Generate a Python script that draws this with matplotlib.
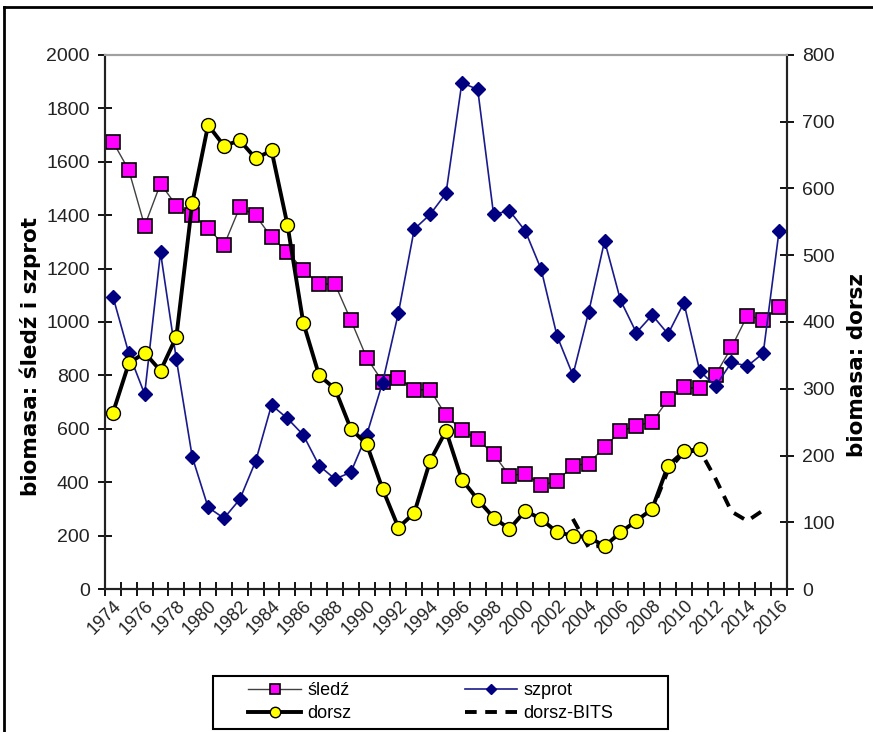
import numpy as np
import matplotlib
matplotlib.use('Agg')
import matplotlib.pyplot as plt
from matplotlib.lines import Line2D
from matplotlib.patches import Rectangle

plt.rcParams['font.family'] = ['Liberation Sans', 'DejaVu Sans']

# years 1974-2016
years = list(range(1974, 2017))

# biomass, left axis
sledz = [1675, 1569, 1360, 1518, 1436, 1402, 1352, 1287, 1430, 1399, 1317, 1263, 1195, 1142, 1142,
         1007, 866, 777, 791, 746, 746, 650, 595, 560, 505, 425, 432, 389, 403, 462,
         470, 533, 590, 612, 625, 710, 755, 751, 803, 905, 1024, 1009, 1056]
szprot = [1095, 883, 730, 1261, 860, 495, 306, 265, 336, 479, 689, 639, 577, 462, 412,
          437, 577, 773, 1034, 1348, 1403, 1482, 1896, 1871, 1403, 1417, 1341, 1197, 948, 801,
          1038, 1304, 1082, 960, 1026, 955, 1072, 816, 760, 849, 835, 883, 1341]

# cod biomass, right axis
dorsz_years = list(range(1974, 2012))
dorsz = [264, 338, 354, 327, 378, 578, 695, 664, 672, 645, 657, 546, 399, 320, 300,
         240, 217, 150, 92, 114, 192, 237, 164, 134, 107, 90, 117, 105, 85, 80,
         78, 64, 85, 102, 120, 185, 206, 210]
bits_years = list(range(2003, 2016))
bits = [105, 62, 66, 84, 101, 118, 178, 205, 208, 165, 116, 102, 118]

label_years = list(range(1974, 2017, 2))

fig = plt.figure(figsize=(8.73, 7.32), dpi=100)
ax = fig.add_axes([105 / 873, 1 - 589 / 732, 682 / 873, 534 / 732])
ax2 = ax.twinx()

ax.plot(years, sledz, color='#404040', lw=1.0, marker='s', ms=9.5,
        mfc='#ff00ff', mec='black', mew=1.2, label='śledź', zorder=3)
ax.plot(years, szprot, color='#1a1a8c', lw=1.2, marker='D', ms=7,
        mfc='#000080', mec='#000080', label='szprot', zorder=4)
ax2.plot(bits_years, bits, color='black', lw=2.8, ls=(0, (3, 2.2)), label='dorsz-BITS', zorder=2)
ax2.plot(dorsz_years, dorsz, color='black', lw=2.8, marker='o', ms=10,
         mfc='#ffff00', mec='black', mew=1.0, label='dorsz', zorder=3)

ax.set_xlim(1973.5, 2016.5)
ax.set_ylim(0, 2000)
ax2.set_ylim(0, 800)
ax.set_yticks(np.arange(0, 2001, 200))
ax2.set_yticks(np.arange(0, 801, 100))
ax.set_xticks(np.arange(1973.5, 2017, 1))
ax.set_xticklabels([])
ax.set_xticks(label_years, minor=True)
ax.set_xticklabels([str(y) for y in label_years], minor=True, rotation=45,
                   ha='right', rotation_mode='anchor', fontsize=13, color='#222222')
ax.tick_params(axis='x', which='minor', length=0, pad=6)
ax.tick_params(axis='x', which='major', direction='inout', length=10, width=1.3)
ax.tick_params(axis='y', direction='inout', length=10, width=1.3, labelsize=14,
               labelcolor='#222222', pad=6)
ax2.tick_params(axis='y', direction='inout', length=10, width=1.3, labelsize=14,
                labelcolor='#222222', pad=6)

for a in (ax, ax2):
    a.spines['top'].set_color('#a0a0a0')
    a.spines['top'].set_linewidth(1.5)
    for s in ('left', 'right', 'bottom'):
        a.spines[s].set_linewidth(1.5)
        a.spines[s].set_color('#222222')

fig.text(30 / 873, 1 - 357 / 732, 'biomasa: śledź i szprot', rotation=90,
         ha='center', va='center', fontsize=15.5, fontweight='bold', family='DejaVu Sans')
fig.text(857 / 873, 1 - 365 / 732, 'biomasa: dorsz', rotation=90,
         ha='center', va='center', fontsize=15.5, fontweight='bold', family='DejaVu Sans')

h1, l1 = ax.get_legend_handles_labels()
h2, l2 = ax2.get_legend_handles_labels()
hd = dict(zip(l1 + l2, h1 + h2))
order = ['śledź', 'dorsz', 'szprot', 'dorsz-BITS']
leg = fig.legend([hd[k] for k in order], order, ncol=2, loc='center',
                 bbox_to_anchor=(431 / 873, 1 - 702 / 732), fontsize=13, frameon=False,
                 handlelength=2.9, columnspacing=6.3, labelspacing=0.35, borderpad=0,
                 handletextpad=0.35, markerscale=0.75)
fig.add_artist(Rectangle((213 / 873, 3 / 732), 455 / 873, 53 / 732, transform=fig.transFigure,
                         fill=False, ec='black', lw=1.5))

# outer frame of the picture
fig.add_artist(Line2D([4 / 873, 4 / 873], [0, 1 - 7 / 732], transform=fig.transFigure,
                      color='black', lw=2))
fig.add_artist(Line2D([4 / 873, 1], [1 - 7 / 732, 1 - 7 / 732], transform=fig.transFigure,
                      color='black', lw=2))

fig.savefig('out.png', dpi=100)
